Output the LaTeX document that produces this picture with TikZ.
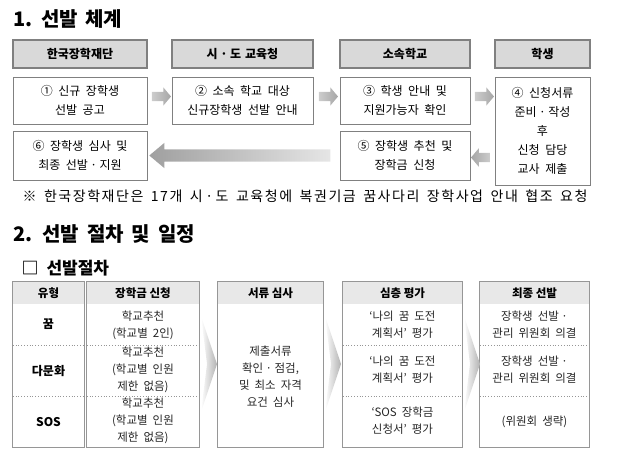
\documentclass[tikz,border=0pt]{standalone}
\usepackage{fontspec}
\setmainfont{Noto Sans CJK KR}
\usetikzlibrary{positioning, calc, shapes.arrows}
\definecolor{headgray}{RGB}{217,217,217}
\definecolor{framegray}{RGB}{128,128,128}
\definecolor{tablegray}{RGB}{232,232,232}
\definecolor{linegray}{RGB}{150,150,150}
\newcommand{\widesp}[1]{\spaceskip=#1\relax}
\newcommand{\mdot}{\hspace{2.5pt}·\hspace{2.5pt}}

\begin{document}
\begin{tikzpicture}[x=1pt, y=-1pt, font=\fontsize{12}{19}\selectfont\widesp{5.5pt},
  headbox/.style={draw=framegray, line width=1.4pt, fill=headgray, minimum height=28,
    inner sep=0pt, font=\fontsize{12}{14}\selectfont\bfseries\widesp{4pt}},
  stepbox/.style={draw=framegray, line width=0.9pt, fill=white, align=center, inner sep=0pt},
  flowarrow/.style={single arrow, inner xsep=0pt, inner ysep=4.5pt, minimum height=19,
    single arrow head extend=4.5pt, single arrow tip angle=100, left color=gray!40, right color=gray!70},
  thead/.style={fill=tablegray, minimum height=22, inner sep=0pt, font=\fontsize{11.5}{14}\selectfont\bfseries},
  tframe/.style={draw=linegray, line width=1pt},
  tsep/.style={linegray, dotted, line width=0.8pt},
  tcell/.style={align=center, font=\fontsize{11.5}{17}\selectfont\widesp{5pt}, text=black!85},
  tkind/.style={font=\fontsize{12}{14}\selectfont\bfseries}]

\useasboundingbox (0,0) rectangle (619,459);

\node[anchor=west, font=\fontsize{20}{24}\selectfont\bfseries\widesp{7pt}] (title1) at (10,19) {1. 선발 체계};

\node[headbox, minimum width=134] (hA) at (80,54) {한국장학재단};
\node[headbox, minimum width=141] (hB) at (242.5,54) {시\mdot 도 교육청};
\node[headbox, minimum width=130] (hC) at (405,54) {소속학교};
\node[headbox, minimum width=95] (hD) at (542.5,54) {학생};

\node[stepbox, minimum width=134, minimum height=47] (s1) at (80,100.5) {① 신규 장학생\\선발 공고};
\node[stepbox, minimum width=141, minimum height=47] (s2) at (242.5,100.5) {② 소속 학교 대상\\신규장학생 선발 안내};
\node[stepbox, minimum width=130, minimum height=47] (s3) at (405,100.5) {③ 학생 안내 및\\지원가능자 확인};
\node[stepbox, minimum width=95, minimum height=108] (s4) at (542.5,131) {④ 신청서류\\준비\mdot 작성\\후\\신청 담당\\교사 제출};
\node[stepbox, minimum width=130, minimum height=49] (s5) at (405,155.5) {⑤ 장학생 추천 및\\장학금 신청};
\node[stepbox, minimum width=134, minimum height=49] (s6) at (80,155.5) {⑥ 장학생 심사 및\\최종 선발\mdot 지원};

\node[flowarrow] (a12) at ($(s1.east)!0.5!(s2.west)+(0,-4)$) {};
\node[flowarrow] (a23) at ($(s2.east)!0.5!(s3.west)+(0,-4)$) {};
\node[flowarrow] (a34) at ($(s3.east)!0.5!(s4.west |- s3.east)+(0,-4)$) {};
\node[flowarrow, shape border rotate=180, left color=gray!70, right color=gray!40]
  (a45) at ($(s5.east)!0.5!(s4.west |- s5.east)+(0,2)$) {};
\node[single arrow, shape border rotate=180, inner xsep=0pt, inner ysep=6pt, minimum height=181,
  single arrow head extend=6.5pt, single arrow tip angle=80, left color=gray!75, right color=gray!20]
  (a56) at ($(s5.west)!0.5!(s6.east)$) {};

\node[anchor=west, font=\fontsize{14}{16}\selectfont\addfontfeature{LetterSpace=11}\widesp{7.5pt}] (note) at (19,196)
  {※ 한국장학재단은 17개 시\mdot 도 교육청에 복권기금 꿈사다리 장학사업 안내 협조 요청};

\node[anchor=west, font=\fontsize{20}{24}\selectfont\bfseries\widesp{8pt}] (title2) at (10,234) {2. 선발 절차 및 일정};
\node[anchor=west, font=\fontsize{17}{20}\selectfont\bfseries\widesp{8pt}] (sub) at (18,268) {□ 선발절차};

\node[thead, minimum width=71] (tA) at (48.5,293) {유형};
\node[thead, minimum width=112] (tB) at (143,293) {장학금 신청};
\node[thead, minimum width=105] (tC) at (270.5,293) {서류 심사};
\node[thead, minimum width=119] (tD) at (402.5,293) {심층 평가};
\node[thead, minimum width=109] (tE) at (534.5,293) {최종 선발};

\foreach \col in {tA, tB, tC, tD, tE}{
  \draw[tframe] (\col.north west) rectangle (\col.east |- 0,447);
}
\foreach \col in {tA, tB, tD, tE}{
  \draw[tsep] (\col.west |- 0,345) -- (\col.east |- 0,345);
  \draw[tsep] (\col.west |- 0,396) -- (\col.east |- 0,396);
}

\foreach \xa in {201, 325, 464}{
  \shade[left color=white, right color=gray!60] (\xa,316) -- (\xa+16,364) -- (\xa,412) -- (\xa+6,364) -- cycle;
}

\node[tkind] (k1) at (48.5,324) {꿈};
\node[tkind] (k2) at (48.5,371) {다문화};
\node[tkind] (k3) at (48.5,422) {SOS};

\node[tcell] (b1) at (143,325) {학교추천\\(학교별 2인)};
\node[tcell] (b2) at (143,370) {학교추천\\(학교별 인원\\제한 없음)};
\node[tcell] (b3) at (143,421) {학교추천\\(학교별 인원\\제한 없음)};

\node[tcell] (c1) at (270.5,377) {제출서류\\확인\mdot 점검,\\및 최소 자격\\요건 심사};

\node[tcell] (d1) at (402.5,325) {‘나의 꿈 도전\\계획서’ 평가};
\node[tcell] (d2) at (402.5,370) {‘나의 꿈 도전\\계획서’ 평가};
\node[tcell] (d3) at (402.5,421) {‘SOS 장학금\\신청서’ 평가};

\node[tcell] (e1) at (534.5,325) {장학생 선발\mdot\\관리 위원회 의결};
\node[tcell] (e2) at (534.5,370) {장학생 선발\mdot\\관리 위원회 의결};
\node[tcell] (e3) at (534.5,422) {(위원회 생략)};
\end{tikzpicture}
\end{document}
